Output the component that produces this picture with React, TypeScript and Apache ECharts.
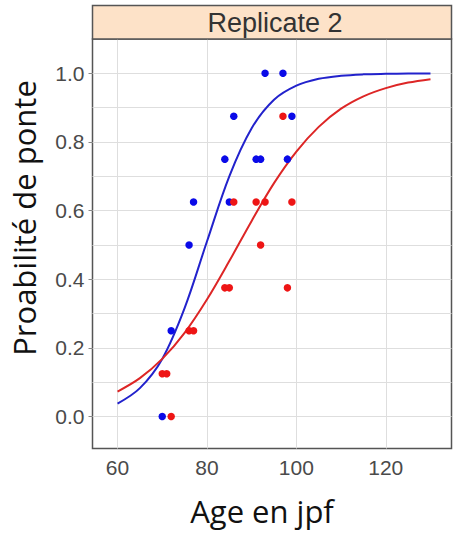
import React, { useEffect, useRef } from "react";
import * as echarts from "echarts";

const STRIP_TITLE = "Replicate 2";
const X_TITLE = "Age en jpf";
const Y_TITLE = "Proabilité de ponte";

const X_TICKS = [60, 80, 100, 120];
const Y_TICKS = [0, 0.2, 0.4, 0.6, 0.8, 1.0];
const Y_GRID = [0, 0.1, 0.2, 0.3, 0.4, 0.5, 0.6, 0.7, 0.8, 0.9, 1.0];

const BLUE_X = [70, 72, 76, 77, 84, 85, 86, 91, 92, 93, 97, 98, 99];
const BLUE_Y = [0, 0.25, 0.5, 0.625, 0.75, 0.625, 0.875, 0.75, 0.75, 1.0, 1.0, 0.75, 0.875];

const RED_X = [70, 71, 72, 76, 77, 84, 85, 86, 91, 92, 93, 97, 98, 99];
const RED_Y = [0.125, 0.125, 0, 0.25, 0.25, 0.375, 0.375, 0.625, 0.625, 0.5, 0.625, 0.875, 0.375, 0.625];

const CURVE_X = [60, 65, 70, 75, 80, 85, 90, 95, 100, 105, 110, 115, 120, 125, 130];
const BLUE_CURVE = [0.038, 0.083, 0.168, 0.316, 0.51, 0.70, 0.84, 0.923, 0.964, 0.984, 0.993, 0.997, 0.9985, 0.9993, 0.9997];
const RED_CURVE = [0.073, 0.112, 0.168, 0.244, 0.341, 0.453, 0.570, 0.680, 0.772, 0.844, 0.897, 0.933, 0.957, 0.973, 0.983];

const GRID_LEFT = 92.5;
const GRID_RIGHT_EDGE = 451.5;
const GRID_TOP = 39;
const GRID_BOTTOM_EDGE = 448.5;

export default function App() {
  const ref = useRef<HTMLDivElement>(null);

  useEffect(() => {
    if (!ref.current) return;
    const chart = echarts.init(ref.current, null, { renderer: "svg" });
    const pairs = (xs: number[], ys: number[]) => xs.map((x, i) => [x, ys[i]]);
    const gridLineStyle = { color: "#dedede", width: 1, type: "solid" as const };

    chart.setOption({
      animation: false,
      backgroundColor: "#ffffff",
      grid: {
        left: GRID_LEFT,
        right: 455 - GRID_RIGHT_EDGE,
        top: GRID_TOP,
        bottom: 534 - GRID_BOTTOM_EDGE,
        show: true,
        borderColor: "#555555",
        borderWidth: 1.5,
        backgroundColor: "#ffffff",
      },
      xAxis: {
        type: "value",
        min: 54.4,
        max: 134.7,
        axisLine: { show: false },
        splitLine: { show: false },
        axisTick: { show: false, customValues: X_TICKS },
        axisLabel: {
          customValues: X_TICKS,
          margin: 8,
          fontFamily: "Liberation Sans",
          fontSize: 21,
          color: "#4a4a4a",
        },
      },
      yAxis: {
        type: "value",
        min: -0.093,
        max: 1.1,
        axisLine: { show: false },
        splitLine: { show: false },
        axisTick: {
          show: true,
          customValues: Y_TICKS,
          length: 4,
          lineStyle: { color: "#888888" },
        },
        axisLabel: {
          customValues: Y_TICKS,
          margin: 8,
          fontFamily: "Liberation Sans",
          fontSize: 21,
          color: "#4a4a4a",
          formatter: (v: number) => v.toFixed(1),
        },
      },
      graphic: [
        {
          type: "rect",
          shape: { x: GRID_LEFT, y: 5.5, width: GRID_RIGHT_EDGE - GRID_LEFT, height: GRID_TOP - 5.5 },
          style: { fill: "#fde2c8", stroke: "#555555", lineWidth: 1.5 },
          z: 10,
        },
        {
          type: "text",
          x: (GRID_LEFT + GRID_RIGHT_EDGE) / 2 + 3,
          y: 23,
          style: {
            text: STRIP_TITLE,
            fontFamily: "Liberation Sans",
            fontSize: 27,
            fill: "#333333",
            align: "center",
            verticalAlign: "middle",
          },
          z: 11,
        },
        {
          type: "text",
          x: 262,
          y: 511,
          style: {
            text: X_TITLE,
            fontFamily: "Open Sans",
            fontSize: 31,
            fill: "#111111",
            align: "center",
            verticalAlign: "middle",
          },
        },
        {
          type: "text",
          x: 24,
          y: 218,
          rotation: Math.PI / 2,
          style: {
            text: Y_TITLE,
            fontFamily: "Open Sans",
            fontSize: 31,
            fill: "#111111",
            align: "center",
            verticalAlign: "middle",
          },
        },
      ],
      series: [
        {
          type: "line",
          data: [],
          z: 0,
          silent: true,
          markLine: {
            z: 0,
            silent: true,
            symbol: "none",
            animation: false,
            label: { show: false },
            lineStyle: gridLineStyle,
            data: [
              ...Y_GRID.map((v) => ({ yAxis: v })),
              ...X_TICKS.map((v) => ({ xAxis: v })),
            ],
          },
        },
        {
          type: "line",
          data: pairs(CURVE_X, BLUE_CURVE),
          smooth: 0.35,
          showSymbol: false,
          lineStyle: { color: "#2222cc", width: 2 },
          z: 3,
        },
        {
          type: "line",
          data: pairs(CURVE_X, RED_CURVE),
          smooth: 0.35,
          showSymbol: false,
          lineStyle: { color: "#dd2626", width: 2 },
          z: 3,
        },
        {
          type: "scatter",
          data: pairs(BLUE_X, BLUE_Y),
          symbolSize: 7.5,
          itemStyle: { color: "#0a0ae8", opacity: 1 },
          z: 6,
        },
        {
          type: "scatter",
          data: pairs(RED_X, RED_Y),
          symbolSize: 7.5,
          itemStyle: { color: "#ee1515", opacity: 1 },
          z: 7,
        },
      ],
    });

    return () => chart.dispose();
  }, []);

  return (
    <div
      ref={ref}
      style={{ position: "absolute", left: 0, top: 0, width: 455, height: 534 }}
    />
  );
}
